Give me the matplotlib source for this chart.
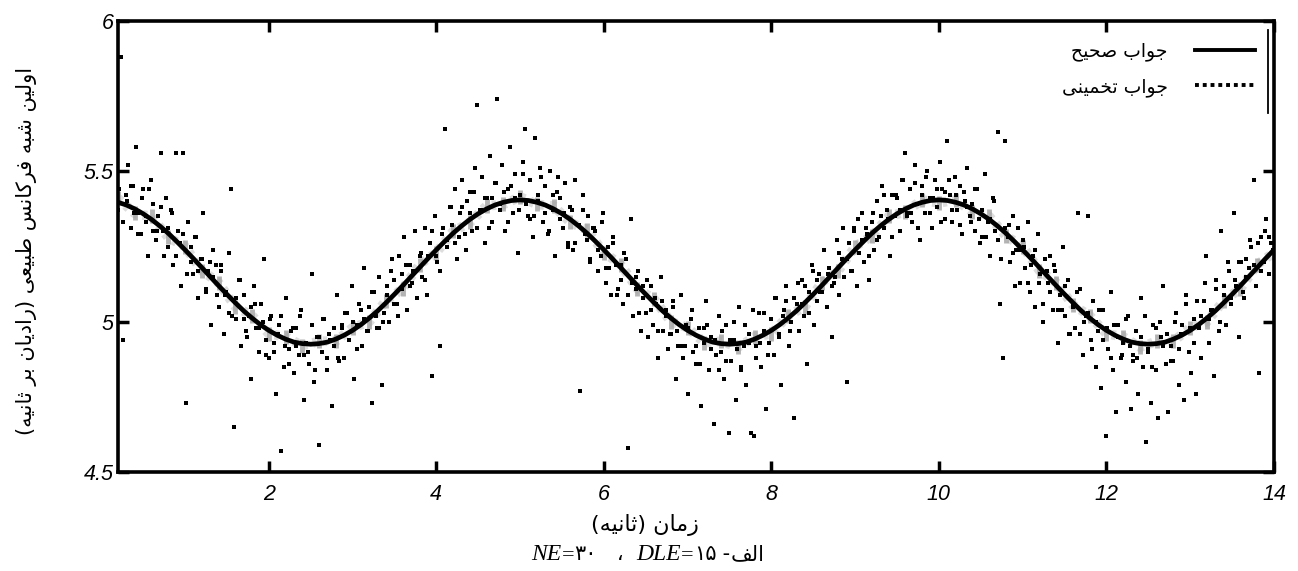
import matplotlib
matplotlib.use("Agg")
import matplotlib.pyplot as plt
from matplotlib.lines import Line2D
import numpy as np

# ---------------- data ----------------
# exact solution, sampled every 0.1 s from 0.2 s to 14.0 s
true_start, true_step = 0.2, 0.1
true_vals = [
    5.397, 5.388, 5.375, 5.359, 5.340, 5.318, 5.294, 5.267, 5.239, 5.210,
    5.180, 5.150, 5.120, 5.091, 5.063, 5.036, 5.012, 4.990, 4.971, 4.955,
    4.942, 4.932, 4.927, 4.925, 4.927, 4.932, 4.942, 4.955, 4.971, 4.990,
    5.012, 5.036, 5.063, 5.091, 5.120, 5.150, 5.180, 5.210, 5.239, 5.267,
    5.294, 5.318, 5.340, 5.359, 5.375, 5.388, 5.397, 5.403,
    5.405, 5.403, 5.397, 5.388, 5.375, 5.359, 5.340, 5.318, 5.294, 5.267,
    5.239, 5.210, 5.180, 5.150, 5.120, 5.091, 5.063, 5.036, 5.012, 4.990,
    4.971, 4.955, 4.942, 4.932, 4.927, 4.925, 4.927, 4.932, 4.942, 4.955,
    4.971, 4.990, 5.012, 5.036, 5.063, 5.091, 5.120, 5.150, 5.180, 5.210,
    5.239, 5.267, 5.294, 5.318, 5.340, 5.359, 5.375, 5.388, 5.397, 5.403,
    5.405, 5.403, 5.397, 5.388, 5.375, 5.359, 5.340, 5.318, 5.294, 5.267,
    5.239, 5.210, 5.180, 5.150, 5.120, 5.091, 5.063, 5.036, 5.012, 4.990,
    4.971, 4.955, 4.942, 4.932, 4.927, 4.925, 4.927, 4.932, 4.942, 4.955,
    4.971, 4.990, 5.012, 5.036, 5.063, 5.091, 5.120, 5.150, 5.180, 5.210,
    5.239,
]

# smoothed estimate (grey), every 0.2 s
smooth_start, smooth_step = 0.2, 0.2
smooth_vals = [
    5.41, 5.36, 5.35, 5.28, 5.25, 5.17, 5.13, 5.05, 5.02, 4.96,
    4.95, 4.92, 4.935, 4.935, 4.98, 5.00, 5.07, 5.11, 5.19, 5.23,
    5.30, 5.33, 5.385, 5.39, 5.415, 5.39, 5.385, 5.33, 5.305, 5.23,
    5.19, 5.11, 5.075, 5.00, 4.98, 4.93, 4.935, 4.915, 4.95, 4.96,
    5.02, 5.05, 5.13, 5.17, 5.25, 5.285, 5.35, 5.365, 5.405, 5.395,
    5.405, 5.365, 5.35, 5.285, 5.25, 5.17, 5.13, 5.055, 5.02, 4.96,
    4.95, 4.915, 4.935, 4.935, 4.98, 5.00, 5.07, 5.11, 5.19, 5.23,
]

# raw estimates (dots, first run), every 0.03 s from 0.2 s to 14.0 s
raw_start, raw_step = 0.2, 0.03
raw_vals = [
    5.37, 5.88, 4.94, 5.42, 5.52, 5.31, 5.45, 5.58, 5.36, 5.29,
    5.44, 5.33, 5.22, 5.47, 5.39, 5.27, 5.35, 5.56, 5.30, 5.41,
    5.25, 5.37, 5.19, 5.56, 5.30, 5.12, 5.56, 4.73, 5.33, 5.20,
    5.16, 5.28, 5.08, 5.21, 5.36, 5.11, 5.17, 4.99, 5.24, 5.19,
    5.05, 5.17, 4.96, 5.10, 5.23, 5.44, 4.65, 5.01, 5.14, 4.92,
    5.09, 4.97, 5.02, 4.81, 5.12, 4.98, 4.90, 5.06, 5.21, 4.94,
    4.88, 5.02, 4.93, 4.76, 4.99, 4.57, 4.85, 5.08, 4.91, 4.97,
    4.83, 4.98, 4.89, 5.04, 4.74, 4.93, 4.86, 5.16, 4.80, 4.95,
    4.59, 4.90, 5.01, 4.84, 4.96, 4.72, 4.92, 5.09, 4.87, 4.99,
    4.88, 5.03, 4.94, 5.12, 4.81, 4.99, 5.06, 4.92, 5.18, 4.97,
    5.05, 4.73, 5.10, 4.98, 5.15, 4.79, 5.03, 5.12, 5.00, 5.21,
    5.14, 5.06, 5.22, 5.11, 5.28, 5.04, 5.19, 5.13, 5.30, 5.08,
    5.22, 5.15, 5.31, 5.09, 5.26, 4.82, 5.35, 5.20, 4.92, 5.29,
    5.64, 5.25, 5.38, 5.32, 5.44, 5.21, 5.36, 5.47, 5.29, 5.40,
    5.43, 5.30, 5.51, 5.72, 5.37, 5.48, 5.26, 5.41, 5.55, 5.33,
    5.46, 5.74, 5.39, 5.52, 5.30, 5.44, 5.58, 5.36, 5.49, 5.23,
    5.42, 5.53, 5.64, 5.35, 5.47, 5.28, 5.61, 5.40, 5.51, 5.33,
    5.45, 5.29, 5.50, 5.37, 5.22, 5.48, 5.41, 5.31, 5.46, 5.26,
    5.38, 5.24, 5.47, 5.32, 4.77, 5.42, 5.29, 5.35, 5.21, 5.31,
    5.30, 5.17, 5.22, 5.36, 5.13, 5.25, 5.09, 5.28, 5.19, 5.11,
    5.14, 5.06, 5.21, 4.58, 5.34, 5.02, 5.11, 5.17, 4.97, 5.08,
    5.03, 4.95, 5.12, 4.99, 5.06, 4.88, 5.15, 4.97, 5.04, 4.91,
    4.96, 5.05, 4.81, 4.92, 5.09, 4.88, 4.99, 4.76, 5.01, 4.90,
    4.86, 4.98, 4.72, 4.93, 5.07, 4.84, 4.95, 4.66, 4.89, 5.02,
    4.90, 4.81, 4.99, 4.63, 4.87, 4.94, 4.74, 5.05, 4.84, 4.92,
    4.79, 4.96, 4.63, 4.62, 4.88, 5.03, 4.85, 4.97, 4.71, 4.93,
    5.01, 4.89, 5.08, 4.95, 4.79, 5.04, 5.12, 4.92, 5.00, 4.68,
    5.06, 4.97, 5.14, 5.02, 4.86, 5.10, 5.19, 4.99, 5.07, 5.16,
    5.10, 5.24, 5.05, 5.18, 4.95, 5.13, 5.27, 5.09, 5.21, 5.15,
    4.80, 5.26, 5.17, 5.31, 5.12, 5.23, 5.36, 5.20, 5.29, 5.14,
    5.33, 5.24, 5.40, 5.28, 5.45, 5.31, 5.37, 5.22, 5.42, 5.35,
    5.41, 5.30, 5.47, 5.56, 5.36, 5.44, 5.33, 5.52, 5.39, 5.27,
    5.45, 5.36, 5.50, 5.41, 5.31, 5.47, 5.38, 5.53, 5.44, 5.34,
    5.60, 5.42, 5.33, 5.48, 5.37, 5.45, 5.29, 5.40, 5.51, 5.35,
    5.39, 5.30, 5.44, 5.26, 5.37, 5.49, 5.33, 5.22, 5.41, 5.30,
    5.63, 5.06, 4.88, 5.60, 5.28, 5.20, 5.35, 5.12, 5.31, 5.24,
    5.27, 5.18, 5.33, 5.10, 5.22, 5.05, 5.29, 5.16, 5.00, 5.21,
    5.13, 5.22, 5.04, 5.17, 4.93, 5.09, 5.25, 5.02, 5.14, 4.96,
    5.06, 4.98, 5.36, 5.11, 4.89, 5.02, 5.35, 4.94, 5.07, 4.85,
    4.97, 4.78, 5.04, 4.62, 4.91, 5.10, 4.84, 4.70, 4.99, 4.88,
    4.93, 4.80, 5.02, 4.71, 4.89, 4.97, 4.76, 5.08, 4.85, 4.60,
    4.91, 4.73, 4.99, 4.84, 4.68, 4.95, 5.12, 4.86, 4.70, 4.92,
    4.87, 5.03, 4.79, 4.96, 4.74, 5.09, 4.90, 4.83, 5.01, 4.76,
    4.98, 4.88, 5.07, 5.22, 4.93, 5.04, 4.82, 5.11, 4.97, 5.30,
    5.09, 4.99, 5.17, 5.06, 5.36, 5.12, 4.95, 5.20, 5.08, 5.15,
    5.18, 5.25, 5.47, 5.12, 4.83, 5.28, 5.20, 5.34, 5.16, 5.26,
    5.24,
]

# raw estimates (dots, second run), every 0.045 s from 0.215 s
raw2_start, raw2_step = 0.215, 0.045
raw2_vals = [
    5.44, 5.33, 5.40, 5.45, 5.36, 5.29, 5.41, 5.35, 5.44, 5.30,
    5.30, 5.38, 5.22, 5.31, 5.36, 5.22, 5.26, 5.29, 5.16, 5.25,
    5.28, 5.17, 5.21, 5.10, 5.20, 5.15, 5.09, 5.19, 5.09, 5.03,
    5.02, 5.08, 5.14, 5.01, 4.95, 5.05, 5.06, 4.98, 5.00, 4.89,
    5.01, 4.90, 4.96, 5.02, 4.92, 4.86, 4.98, 4.92, 5.02, 4.89,
    4.90, 4.99, 4.84, 4.95, 5.01, 4.88, 4.94, 4.98, 4.88, 4.98,
    5.03, 4.94, 5.00, 4.91, 5.04, 5.01, 4.97, 5.10, 5.02, 4.98,
    5.00, 5.09, 5.17, 5.06, 5.02, 5.16, 5.19, 5.12, 5.17, 5.08,
    5.23, 5.14, 5.22, 5.30, 5.22, 5.17, 5.31, 5.27, 5.38, 5.26,
    5.28, 5.38, 5.24, 5.36, 5.43, 5.31, 5.37, 5.41, 5.31, 5.41,
    5.46, 5.37, 5.43, 5.33, 5.45, 5.41, 5.37, 5.49, 5.39, 5.34,
    5.35, 5.42, 5.48, 5.36, 5.30, 5.42, 5.43, 5.34, 5.36, 5.25,
    5.37, 5.26, 5.32, 5.37, 5.27, 5.20, 5.31, 5.24, 5.33, 5.18,
    5.18, 5.26, 5.09, 5.19, 5.23, 5.09, 5.13, 5.15, 5.03, 5.12,
    5.14, 5.04, 5.08, 4.97, 5.07, 5.02, 4.96, 5.07, 4.97, 4.92,
    4.92, 4.98, 5.04, 4.92, 4.86, 4.98, 4.99, 4.91, 4.94, 4.84,
    4.97, 4.87, 4.94, 5.00, 4.91, 4.85, 4.99, 4.93, 5.04, 4.92,
    4.93, 5.03, 4.89, 5.01, 5.08, 4.96, 5.02, 5.07, 4.97, 5.08,
    5.13, 5.06, 5.12, 5.03, 5.17, 5.14, 5.10, 5.24, 5.16, 5.12,
    5.15, 5.23, 5.31, 5.21, 5.17, 5.30, 5.34, 5.27, 5.31, 5.22,
    5.36, 5.27, 5.35, 5.42, 5.34, 5.28, 5.42, 5.37, 5.47, 5.35,
    5.36, 5.46, 5.31, 5.42, 5.48, 5.36, 5.41, 5.44, 5.33, 5.43,
    5.47, 5.37, 5.42, 5.32, 5.43, 5.38, 5.33, 5.44, 5.34, 5.28,
    5.28, 5.34, 5.40, 5.27, 5.21, 5.31, 5.32, 5.23, 5.24, 5.13,
    5.25, 5.13, 5.19, 5.24, 5.13, 5.06, 5.17, 5.10, 5.19, 5.04,
    5.04, 5.12, 4.96, 5.05, 5.10, 4.96, 5.00, 5.03, 4.91, 5.00,
    5.04, 4.94, 4.98, 4.88, 4.99, 4.95, 4.89, 5.01, 4.92, 4.87,
    4.88, 4.95, 5.02, 4.90, 4.85, 4.98, 5.00, 4.92, 4.96, 4.87,
    5.00, 4.91, 4.99, 5.06, 4.98, 4.93, 5.07, 5.02, 5.13, 5.01,
    5.04, 5.14, 5.00, 5.12, 5.20, 5.08, 5.14, 5.20, 5.10, 5.21,
    5.27, 5.19, 5.26, 5.17, 5.30, 5.28, 5.24,
]

x_ticks = [2, 4, 6, 8, 10, 12, 14]
x_tick_labels = ["2", "4", "6", "8", "10", "12", "14"]
y_ticks = [4.5, 5.0, 5.5, 6.0]
y_tick_labels = ["4.5", "5", "5.5", "6"]

ylabel_fa = "اولین شبه فرکانس طبیعی (رادیان بر ثانیه)"
xlabel_fa = "زمان (ثانیه)"
legend_true_fa = "جواب صحیح"
legend_est_fa = "جواب تخمینی"
caption_fa = "الف"

# ---------------- simple Persian shaping (presentation forms) ----------------
FORMS = {
    "\u0627": ("\uFE8D", "\uFE8E"),
    "\u0628": ("\uFE8F", "\uFE90", "\uFE91", "\uFE92"),
    "\u062A": ("\uFE95", "\uFE96", "\uFE97", "\uFE98"),
    "\u062B": ("\uFE99", "\uFE9A", "\uFE9B", "\uFE9C"),
    "\u062C": ("\uFE9D", "\uFE9E", "\uFE9F", "\uFEA0"),
    "\u062D": ("\uFEA1", "\uFEA2", "\uFEA3", "\uFEA4"),
    "\u062E": ("\uFEA5", "\uFEA6", "\uFEA7", "\uFEA8"),
    "\u062F": ("\uFEA9", "\uFEAA"),
    "\u0631": ("\uFEAD", "\uFEAE"),
    "\u0632": ("\uFEAF", "\uFEB0"),
    "\u0633": ("\uFEB1", "\uFEB2", "\uFEB3", "\uFEB4"),
    "\u0634": ("\uFEB5", "\uFEB6", "\uFEB7", "\uFEB8"),
    "\u0635": ("\uFEB9", "\uFEBA", "\uFEBB", "\uFEBC"),
    "\u0637": ("\uFEC1", "\uFEC2", "\uFEC3", "\uFEC4"),
    "\u0639": ("\uFEC9", "\uFECA", "\uFECB", "\uFECC"),
    "\u0641": ("\uFED1", "\uFED2", "\uFED3", "\uFED4"),
    "\u0643": ("\uFED9", "\uFEDA", "\uFEDB", "\uFEDC"),
    "\u06A9": ("\uFED9", "\uFEDA", "\uFEDB", "\uFEDC"),
    "\u0644": ("\uFEDD", "\uFEDE", "\uFEDF", "\uFEE0"),
    "\u0645": ("\uFEE1", "\uFEE2", "\uFEE3", "\uFEE4"),
    "\u0646": ("\uFEE5", "\uFEE6", "\uFEE7", "\uFEE8"),
    "\u0647": ("\uFEE9", "\uFEEA", "\uFEEB", "\uFEEC"),
    "\u0648": ("\uFEED", "\uFEEE"),
    "\u064A": ("\uFEEF", "\uFEF0", "\uFEF3", "\uFEF4"),
    "\u06CC": ("\uFEEF", "\uFEF0", "\uFEF3", "\uFEF4"),
}


def shape(s):
    out = []
    n = len(s)
    for i, c in enumerate(s):
        f = FORMS.get(c)
        if f is None:
            out.append(c)
            continue
        prev = s[i - 1] if i > 0 else ""
        nxt = s[i + 1] if i < n - 1 else ""
        jp = prev in FORMS and len(FORMS[prev]) == 4
        jn = nxt in FORMS and len(f) == 4
        if jp and jn:
            out.append(f[3])
        elif jp:
            out.append(f[1])
        elif jn:
            out.append(f[2])
        else:
            out.append(f[0])
    return "".join(out)


def rtl(s):
    v = shape(s)[::-1]
    return v.translate(str.maketrans("()", ")("))


FA_FONT = ["DejaVu Sans"]
TICK_FONT = "Liberation Sans"

# ---------------- figure ----------------
W, H = 1298, 571
fig = plt.figure(figsize=(W / 100, H / 100), dpi=100)
ax = fig.add_axes([118 / W, 1 - 472 / H, (1274 - 118) / W, (472 - 21) / H])

t_true = true_start + true_step * np.arange(len(true_vals))
t_smooth = smooth_start + smooth_step * np.arange(len(smooth_vals))
t_raw = raw_start + raw_step * np.arange(len(raw_vals))
t_raw2 = raw2_start + raw2_step * np.arange(len(raw2_vals))

# grey estimate: faint band plus short vertical grey strokes
ax.plot(t_smooth, smooth_vals, color="#b5b5b5", lw=7, alpha=0.45,
        linestyle=(0, (0.45, 0.6)), solid_capstyle="butt", zorder=2)
ax.plot(t_smooth, smooth_vals, linestyle="none", marker="|", ms=10,
        mew=3.5, color="#a2a2a2", alpha=0.8, zorder=2)
ax.plot(t_raw, raw_vals, linestyle="none", marker="s", ms=2.3, mew=0,
        color="black", zorder=3)
ax.plot(t_raw2, raw2_vals, linestyle="none", marker="s", ms=2.3, mew=0,
        color="black", zorder=3)
ax.plot(t_true, true_vals, color="black", lw=3.4, zorder=4,
        solid_capstyle="round")

ax.set_xlim(0.2, 14.0)
ax.set_ylim(4.5, 6.0)
ax.set_xticks(x_ticks)
ax.set_xticklabels(x_tick_labels)
ax.set_yticks(y_ticks)
ax.set_yticklabels(y_tick_labels)
for lab in ax.get_xticklabels() + ax.get_yticklabels():
    lab.set_fontfamily(TICK_FONT)
    lab.set_fontstyle("italic")
    lab.set_fontsize(15.5)
ax.tick_params(direction="in", length=8, width=2.5, top=True, right=True)
ax.tick_params(axis="y", pad=3)
ax.tick_params(axis="x", pad=9)
for sp in ax.spines.values():
    sp.set_linewidth(2.6)

# legend
handles = [Line2D([], [], color="black", lw=2.8),
           Line2D([], [], color="black", lw=2.8, linestyle=(0, (1, 1)))]
leg = ax.legend(handles, [rtl(legend_true_fa), rtl(legend_est_fa)],
                loc="upper right", bbox_to_anchor=(0.9835, 0.955),
                frameon=False, markerfirst=False, handlelength=3.2,
                handletextpad=1.45, labelspacing=0.85, borderaxespad=0,
                borderpad=0, prop={"family": FA_FONT, "size": 13.5})
ax.add_line(Line2D([0.9948, 0.9948], [0.795, 0.98], transform=ax.transAxes,
                   color="black", lw=1.3, clip_on=False))

# axis labels
fig.text(27 / W, 1 - 251 / H, rtl(ylabel_fa), rotation=90, ha="center",
         va="center", family=FA_FONT, fontsize=15)
fig.text(645 / W, 1 - 525 / H, rtl(xlabel_fa), ha="center", va="center",
         family=FA_FONT, fontsize=16)

# caption: visual order  NE=۳۰  ،  DLE=۱۵ -الف
pieces = [
    ("NE", dict(family="Liberation Serif", style="italic", fontsize=17)),
    ("=", dict(family="Liberation Serif", fontsize=16)),
    ("\u06F3\u06F0", dict(family=FA_FONT, fontsize=15)),
    ("   \u060C  ", dict(family=FA_FONT, fontsize=15)),
    ("DLE", dict(family="Liberation Serif", style="italic", fontsize=17)),
    ("=", dict(family="Liberation Serif", fontsize=16)),
    ("\u06F1\u06F5", dict(family=FA_FONT, fontsize=15)),
    (" -", dict(family=FA_FONT, fontsize=15)),
    (rtl(caption_fa), dict(family=FA_FONT, fontsize=15)),
]
base_y = 1 - 560 / H
texts = [fig.text(0, base_y, s, ha="left", va="baseline", **kw)
         for s, kw in pieces]
fig.canvas.draw()
r = fig.canvas.get_renderer()
widths = [t.get_window_extent(r).width for t in texts]
total = sum(widths)
x = 648 - total / 2
for t, w in zip(texts, widths):
    t.set_x(x / W)
    x += w

fig.savefig("out.png", dpi=100)
